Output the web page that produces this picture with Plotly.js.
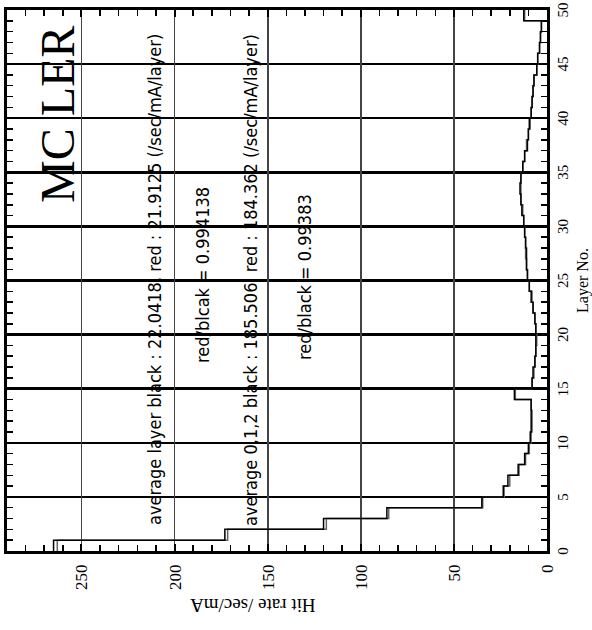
<!DOCTYPE html>
<html><head><meta charset="utf-8">
<script src="https://cdn.plot.ly/plotly-3.0.1.min.js"></script>
<style>
html,body{margin:0;padding:0;overflow:hidden;background:#fff;width:592px;height:630px;}
#chart{position:absolute;left:0;top:0;width:630px;height:592px;transform-origin:0 0;transform:translateY(630px) rotate(-90deg);}
</style></head><body><div id="chart"></div>
<script>
// Layer numbers (start of each 1-layer bin)
const layers = [0,1,2,3,4,5,6,7,8,9,10,11,12,13,14,15,16,17,18,19,20,21,22,23,24,25,26,27,28,29,30,31,32,33,34,35,36,37,38,39,40,41,42,43,44,45,46,47,48,49];
// Hit rate /sec/mA per layer, "black" series
const blackRate = [265,173,120,86,35,23.5,21,15.5,12,10,9,8.5,8.5,8.5,17.5,8,7.5,6.5,6,6,6,6.5,7.5,8.5,9.5,10.5,11,11,11.5,12,12.5,13.5,14,14.5,14,13,12,10.5,10,9.5,8.5,8,7.5,7,5.5,5,4,3.5,3,12.5];
// Hit rate /sec/mA per layer, "red" series
const redRate = [263,171.5,118.5,85,34.5,23,20,15,11.5,9.5,8.5,8,8,8.5,17,8,7,6.5,6,5.5,6,6.5,7.5,8,9.5,10.5,11,11.5,11.5,12,12.5,13,14,14,14,13,12,11,10,9,8.5,8,7.5,7,5.5,5,4,3.5,3,12];
const xTicks = [0,5,10,15,20,25,30,35,40,45,50];
const yTicks = [0,50,100,150,200,250];
const labels = {
  title: "MC LER",
  line1: "average layer black : 22.0418, red : 21.9125 (/sec/mA/layer)",
  line2: "red/blcak = 0.994138",
  line3: "average 0,1,2 black : 185.506, red : 184.362 (/sec/mA/layer)",
  line4: "red/black = 0.99383",
  xTitle: "Layer No.",
  yTitle: "Hit rate /sec/mA"
};

const edgeX = layers.concat([layers.length]);
const stepY = arr => arr.concat([arr[arr.length-1]]);

const serif = "Liberation Serif, Times New Roman, serif";
const narrow = "Liberation Sans Narrow, DejaVu Sans Condensed, Liberation Sans, Arial, sans-serif";

const traces = [
  {x: edgeX, y: stepY(redRate), mode:'lines', line:{shape:'hv', color:'#666666', width:1.5}, name:'red', showlegend:false},
  {x: edgeX, y: stepY(blackRate), mode:'lines', line:{shape:'hv', color:'#000000', width:1.5}, name:'black', showlegend:false}
];

const ann = (text, x, y, size, fam) => ({text, x, y, xref:'x', yref:'y', showarrow:false, font:{family:fam, size, color:'#000'}, xanchor:'center', yanchor:'middle'});

const layout = {
  width:630, height:592,
  margin:{l:79, r:10, t:7, b:45},
  paper_bgcolor:'#fff', plot_bgcolor:'#fff',
  xaxis:{range:[0,50], tickvals:xTicks, ticktext:xTicks.map(String), ticks:'inside', ticklen:7, tickwidth:2, tickcolor:'#000',
         minor:{dtick:1, ticks:'inside', ticklen:6, tickwidth:1.5, tickcolor:'#000', showgrid:false},
         showgrid:true, gridcolor:'#000', gridwidth:2.5, zeroline:false,
         showline:true, linecolor:'#000', linewidth:3, mirror:'allticks',
         tickfont:{family:serif, size:15, color:'#000'},
         title:{text:labels.xTitle, font:{family:serif, size:16, color:'#000'}, standoff:8}},
  yaxis:{range:[0,290], tickvals:yTicks, ticktext:yTicks.map(String), ticks:'inside', ticklen:7, tickwidth:2, tickcolor:'#000',
         minor:{dtick:10, ticks:'inside', ticklen:6, tickwidth:1.5, tickcolor:'#000', showgrid:false},
         showgrid:true, gridcolor:'#444', gridwidth:1.8, zeroline:false,
         showline:true, linecolor:'#000', linewidth:3, mirror:'allticks',
         tickfont:{family:serif, size:17, color:'#000'}, ticklabelstandoff:7},
  annotations:[
    ann(labels.title, 40.3, 263, 48, serif),
    ann(labels.line1, 25.05, 211, 18, narrow),
    ann(labels.line2, 25.5, 185, 18, narrow),
    ann(labels.line3, 25.05, 159, 18, narrow),
    ann(labels.line4, 25.3, 130, 18, narrow),
    {text:labels.yTitle, xref:'paper', yref:'paper', x:-0.1, y:0.545, showarrow:false, textangle:-90,
     font:{family:serif, size:19, color:'#000'}, xanchor:'center', yanchor:'middle'}
  ]
};
Plotly.newPlot('chart', traces, layout, {staticPlot:true, displayModeBar:false});
</script></body></html>
